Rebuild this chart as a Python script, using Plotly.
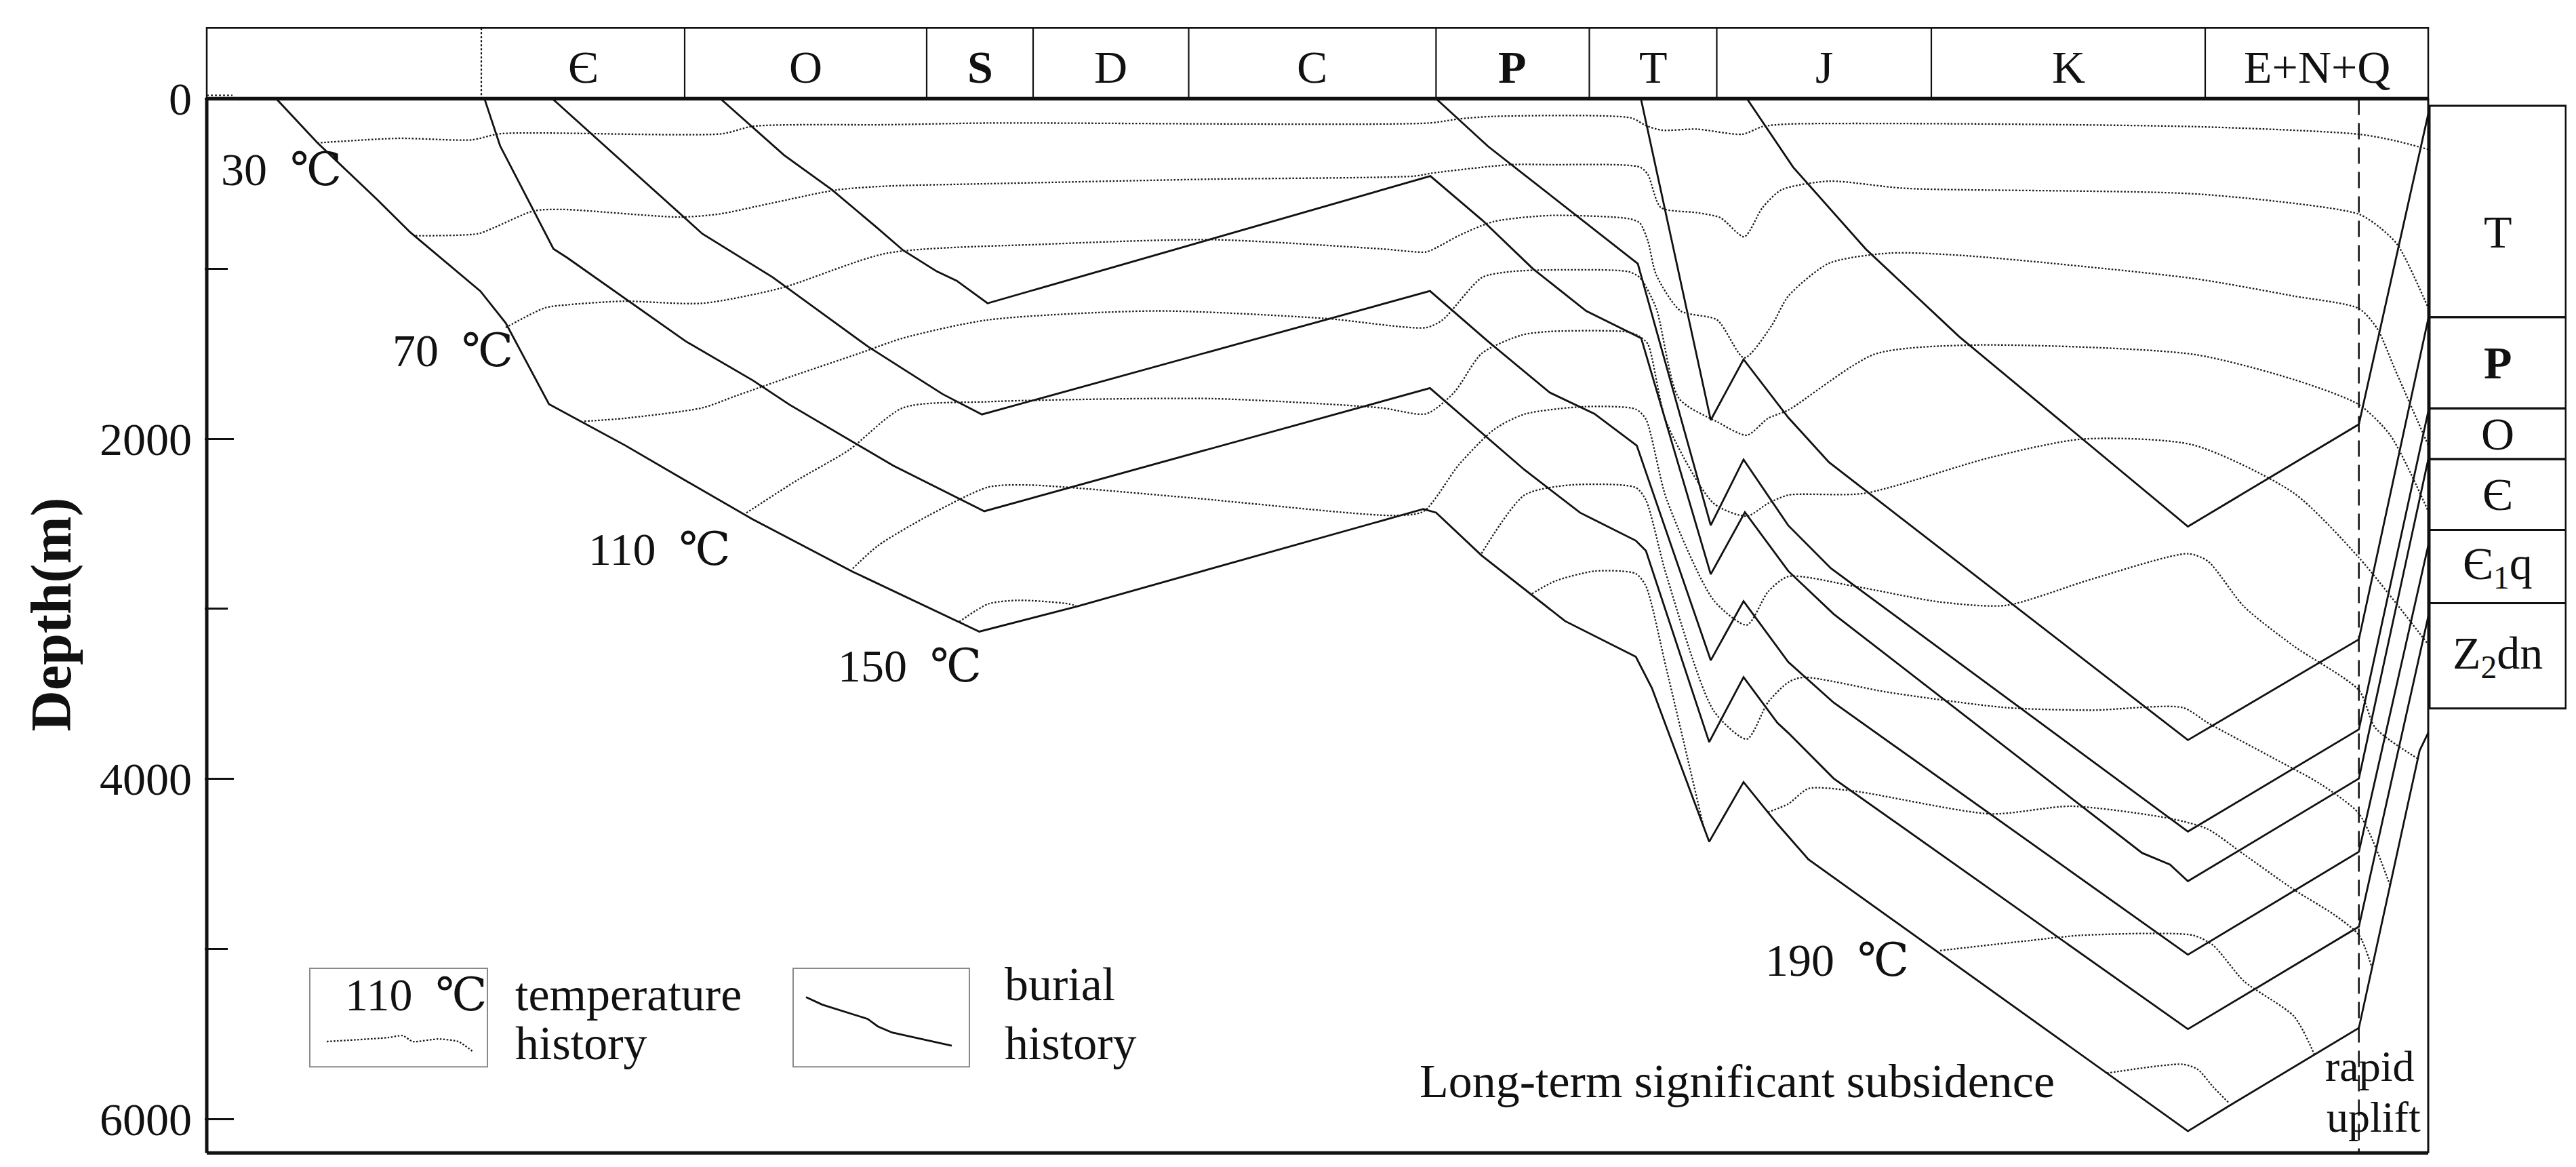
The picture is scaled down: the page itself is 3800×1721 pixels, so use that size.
import plotly.graph_objects as go

# ---------------- data (time-axis position units, depth in m) ----------------
PERIOD_NAMES = ["Є", "O", "<b>S</b>", "D", "C", "<b>P</b>", "T", "J", "K", "E+N+Q"]
PERIOD_EDGES = [702, 1002, 1359, 1516, 1745.5, 2110.4, 2336.5, 2524.5, 2841, 3245, 3574]

STRAT_NAMES = ["T", "<b>P</b>", "O", "Є", "Є<sub>1</sub>q", "Z<sub>2</sub>dn"]
STRAT_BOUNDS = [42, 1285, 1821, 2119, 2536, 2967, 3586]

DEPTH_TICKS = [0, 2000, 4000, 6000]
DEPTH_MINOR = [1000, 3000, 5000]

# burial history lines (horizons)
C1_POS = [2569, 2637, 2744, 2882, 3219.5, 3471.7, 3574]
C1_DEP = [0, 402, 883, 1399, 2516, 1915, 90]

C2_POS = [2412.6, 2515.6, 2564, 2630, 2690, 3219.5, 3471.7, 3574]
C2_DEP = [0, 1890, 1533, 1875, 2138, 3772, 3180, 1295]

C3_POS = [2110.4, 2187, 2408, 2515.6, 2564, 2630, 2693, 3219.5, 3471.7, 3574]
C3_DEP = [0, 280, 970, 2509, 2122, 2510, 2762, 4310, 3709, 1840]

C4_POS = [1054.7, 1148.4, 1219, 1282.9, 1324.4, 1374.1, 1403.1, 1448.8, 2102, 2178.4, 2253,
          2331.8, 2413, 2515.6, 2566, 2630, 2697, 3152, 3193, 3205, 3219.5, 3471.7, 3574]
C4_DEP = [0, 331, 535, 749, 892, 1016, 1070, 1203, 455, 714, 999,
          1248, 1408, 2797, 2432, 2778, 3031, 4436, 4504, 4548, 4602, 3998, 2122]

C5_POS = [806.8, 1028, 1131.8, 1272.5, 1382.4, 1440.5, 2101.4, 2186.7, 2278, 2344, 2406.5,
          2515.6, 2564, 2630, 2697, 3219.5, 3471.7, 3574]
C5_DEP = [0, 794, 1050, 1458, 1737, 1857, 1131, 1426, 1728, 1853, 2040,
          3303, 2955, 3313, 3552, 5034, 4429, 2628]

C6_POS = [706.7, 729.7, 808.4, 829, 1003.3, 1102.8, 1156.8, 1309.8, 1444, 2101.4, 2241, 2323,
          2405.1, 2420, 2513.3, 2564, 2614, 2630, 2697, 3219.5, 3471.7, 3574]
C6_DEP = [0, 277, 883, 936, 1426, 1657, 1800, 2158, 2426, 1702, 2183, 2435,
          2599, 2659, 3784, 3402, 3671, 3730, 3998, 5472, 4869, 3046]

C7_POS = [399.4, 460.2, 547.3, 597, 700.7, 738, 801.8, 914.3, 1003.8, 1100.8, 1250, 1436.6,
          1580.6, 2091.7, 2110.4, 2177.5, 2300.7, 2405.1, 2429, 2513.3, 2564, 2614.1, 2659.8,
          3219.5, 3279.2, 3471.7, 3561.3, 3574]
C7_DEP = [0, 259, 589, 785, 1132, 1319, 1796, 2039, 2247, 2470, 2782, 3134,
          2986, 2413, 2434, 2686, 3072, 3282, 3468, 4370, 4019, 4266, 4474,
          6072, 5926, 5465, 3834, 3729]

# temperature history lines (isotherms)
T30_POS = [460, 580, 688, 730, 1057, 1103, 1300, 1450, 2100, 2144, 2196, 2398, 2420, 2443,
           2495, 2562, 2592, 2630, 3227, 3472, 3525, 3574]
T30_DEP = [260, 233, 242, 206, 206, 162, 153, 143, 143, 119, 104, 113, 158, 185,
           179, 209, 164, 149, 164, 209, 247, 298]

T50_POS = [605, 697, 721, 779, 821, 995, 1053, 1128, 1227, 1300, 1449, 1780, 2079, 2104, 2220,
           2278, 2411, 2423, 2442, 2495, 2530, 2565, 2592, 2620, 2690, 2802, 3239, 3471, 3503,
           3529, 3574]
T50_DEP = [806, 794, 758, 660, 651, 696, 678, 616, 536, 514, 500, 473, 455, 438, 388,
           388, 402, 447, 640, 670, 700, 812, 640, 536, 485, 527, 562, 678, 759,
           860, 1230]

T70_POS = [738, 796, 829, 912, 1028, 1144, 1300, 1532, 1780, 2029, 2096, 2112, 2145, 2195, 2278,
           2394, 2411, 2423, 2435, 2471, 2525, 2565, 2605, 2630, 2690, 2780, 2891, 3227, 3376,
           3472, 3499, 3525, 3574]
T70_DEP = [1346, 1230, 1212, 1191, 1203, 1114, 909, 856, 829, 883, 901, 874, 803, 723, 687,
           705, 731, 838, 1034, 1248, 1301, 1524, 1337, 1161, 968, 908, 923, 1057, 1161,
           1235, 1354, 1592, 2038]

T90_POS = [854, 912, 1028, 1078, 1161, 1260, 1324, 1449, 1698, 1946, 2096, 2120, 2178, 2220,
           2278, 2394, 2411, 2435, 2469, 2525, 2569, 2600, 2630, 2757, 2899, 3227, 3376, 3472,
           3518, 3574]
T90_DEP = [1897, 1880, 1818, 1747, 1631, 1497, 1408, 1301, 1248, 1292, 1346, 1301, 1052, 1017,
           1007, 1017, 1052, 1230, 1764, 1900, 1979, 1880, 1831, 1503, 1449, 1503, 1652, 1800,
           1979, 2426]

T110_POS = [1093, 1169, 1244, 1324, 1449, 1780, 2029, 2096, 2137, 2178, 2237, 2278, 2394, 2411,
            2423, 2450, 2520, 2569, 2600, 2630, 2742, 2928, 3063, 3227, 3376, 3472, 3574]
T110_DEP = [2436, 2241, 2067, 1818, 1782, 1764, 1818, 1853, 1728, 1497, 1390, 1369, 1372, 1399,
            1444, 1900, 2380, 2455, 2380, 2331, 2321, 2110, 2002, 2036, 2320, 2700, 3210]

T130_POS = [1250, 1287, 1362, 1450, 1510, 1748, 2047, 2092, 2144, 2196, 2241, 2330, 2405, 2420,
            2450, 2520, 2569, 2600, 2630, 2727, 2854, 2951, 3078, 3219.5, 3249, 3302, 3376,
            3472, 3496, 3558]
T130_DEP = [2763, 2629, 2451, 2284, 2272, 2347, 2451, 2427, 2153, 1945, 1855, 1811, 1826, 1885,
            2350, 2950, 3095, 2900, 2810, 2867, 2960, 2980, 2825, 2676, 2720, 2986, 3220,
            3480, 3700, 3880]

T150A_POS = [1407, 1450, 1495, 1569, 1581]
T150A_DEP = [3076, 2971, 2950, 2971, 2986]
T150B_POS = [2177.5, 2241, 2308, 2405, 2420, 2450, 2520, 2569, 2600, 2630, 2652, 2779, 2951,
             3078, 3212, 3249, 3346, 3414, 3472, 3518]
T150B_DEP = [2674, 2331, 2272, 2287, 2361, 2800, 3600, 3766, 3550, 3432, 3403, 3492, 3581,
             3596, 3581, 3671, 3879, 4028, 4206, 4630]

T170A_POS = [2252, 2286, 2345, 2405, 2420, 2450, 2505]
T170A_DEP = [2911, 2837, 2778, 2793, 2867, 3350, 4281]
T170B_POS = [2600, 2630, 2660, 2727, 2928, 3048, 3197, 3249, 3302, 3376, 3436, 3472, 3491]
T170B_DEP = [4196, 4147, 4057, 4072, 4206, 4161, 4236, 4296, 4444, 4652, 4801, 4920, 5110]

T190_POS = [2854, 2988, 3063, 3227, 3257, 3302, 3376, 3406]
T190_DEP = [5010, 4950, 4920, 4920, 4980, 5189, 5397, 5620]

T210_POS = [3100, 3212, 3234, 3257, 3279]
T210_DEP = [5731, 5679, 5709, 5813, 5902]

# legend sample curves
LEG_TEMP_POS = [474, 564, 586, 601, 638, 668, 690]
LEG_TEMP_DEP = [5545, 5522, 5510, 5545, 5530, 5545, 5605]
LEG_BUR_POS = [1181, 1205, 1272, 1287, 1308, 1396]
LEG_BUR_DEP = [5284, 5328, 5412, 5456, 5492, 5569]

# ---------------- styling ----------------
FONT = "Liberation Serif, DejaVu Serif, Noto Sans CJK SC, serif"
BLACK = "#111111"
DOT_COLOR = "#1a1a1a"
DOT_DASH = "2.5px,2.5px"
X_LEFT, X_RIGHT = 297, 3574
COL_LEFT, COL_RIGHT = 3576, 3777
HEAD_TOP = -416
Y_BOTTOM = 6200

fig = go.Figure()

burial = [(C1_POS, C1_DEP), (C2_POS, C2_DEP), (C3_POS, C3_DEP), (C4_POS, C4_DEP),
          (C5_POS, C5_DEP), (C6_POS, C6_DEP), (C7_POS, C7_DEP)]
for px_, d_ in burial:
    fig.add_trace(go.Scatter(x=px_, y=d_, mode="lines", hoverinfo="skip", showlegend=False,
                             line=dict(color=BLACK, width=2.8)))

iso = [(T30_POS, T30_DEP), (T50_POS, T50_DEP), (T70_POS, T70_DEP), (T90_POS, T90_DEP),
       (T110_POS, T110_DEP), (T130_POS, T130_DEP), (T150A_POS, T150A_DEP),
       (T150B_POS, T150B_DEP), (T170A_POS, T170A_DEP), (T170B_POS, T170B_DEP),
       (T190_POS, T190_DEP), (T210_POS, T210_DEP)]
for px_, d_ in iso:
    fig.add_trace(go.Scatter(x=px_, y=d_, mode="lines", hoverinfo="skip", showlegend=False,
                             line=dict(color=DOT_COLOR, width=2.3, dash=DOT_DASH,
                                       shape="spline", smoothing=0.7)))

# legend samples
fig.add_trace(go.Scatter(x=LEG_TEMP_POS, y=LEG_TEMP_DEP, mode="lines", hoverinfo="skip",
                         showlegend=False,
                         line=dict(color=DOT_COLOR, width=2.3, dash=DOT_DASH,
                                   shape="spline", smoothing=0.6)))
fig.add_trace(go.Scatter(x=LEG_BUR_POS, y=LEG_BUR_DEP, mode="lines", hoverinfo="skip",
                         showlegend=False, line=dict(color=BLACK, width=2.8)))

shapes = []
# header band
shapes.append(dict(type="rect", xref="x", yref="y", x0=X_LEFT, x1=X_RIGHT, y0=HEAD_TOP, y1=0,
                   line=dict(color=BLACK, width=2.5)))
for i, e in enumerate(PERIOD_EDGES[:-1]):
    shapes.append(dict(type="line", xref="x", yref="y", x0=e, x1=e, y0=HEAD_TOP, y1=0,
                       line=dict(color=BLACK, width=2.2, dash="dot" if i == 0 else "solid")))
# main frame
shapes.append(dict(type="line", xref="x", yref="y", x0=X_LEFT, x1=X_RIGHT, y0=0, y1=0,
                   line=dict(color=BLACK, width=5.5)))
shapes.append(dict(type="line", xref="x", yref="y", x0=X_LEFT, x1=X_LEFT, y0=0, y1=Y_BOTTOM,
                   line=dict(color=BLACK, width=5)))
shapes.append(dict(type="line", xref="x", yref="y", x0=X_LEFT, x1=X_RIGHT, y0=Y_BOTTOM,
                   y1=Y_BOTTOM, line=dict(color=BLACK, width=5)))
shapes.append(dict(type="line", xref="x", yref="y", x0=X_RIGHT, x1=X_RIGHT, y0=0, y1=Y_BOTTOM,
                   line=dict(color=BLACK, width=3)))
# dashed uplift marker
shapes.append(dict(type="line", xref="x", yref="y", x0=3471.7, x1=3471.7, y0=0, y1=Y_BOTTOM,
                   line=dict(color=BLACK, width=2.5, dash="24px,12px")))
# small dotted tick at the top-left of the header
shapes.append(dict(type="line", xref="x", yref="y", x0=X_LEFT, x1=335, y0=-20, y1=-20,
                   line=dict(color=BLACK, width=2, dash="dot")))
# stratigraphic column
for top, bot in zip(STRAT_BOUNDS[:-1], STRAT_BOUNDS[1:]):
    shapes.append(dict(type="rect", xref="x", yref="y", x0=COL_LEFT, x1=COL_RIGHT, y0=top, y1=bot,
                       line=dict(color=BLACK, width=3)))
# legend boxes
for x0, x1 in [(449, 711), (1162, 1422)]:
    shapes.append(dict(type="rect", xref="x", yref="y", x0=x0, x1=x1, y0=5114, y1=5694,
                       line=dict(color="#8a8a8a", width=2)))

ann = []
def txt(x, y, s, size=68, xanchor="center", color=BLACK):
    ann.append(dict(x=x, y=y, xref="x", yref="y", text=s, showarrow=False, xanchor=xanchor,
                    yanchor="middle", font=dict(family=FONT, size=size, color=color)))

for name, a, b in zip(PERIOD_NAMES, PERIOD_EDGES[:-1], PERIOD_EDGES[1:]):
    txt((a + b) / 2, -185, name, size=68)
for name, top, bot in zip(STRAT_NAMES, STRAT_BOUNDS[:-1], STRAT_BOUNDS[1:]):
    txt((COL_LEFT + COL_RIGHT) / 2, (top + bot) / 2 + (120 if name == "T" else 0), name, size=68)

DEG = "\u2002\u2103"
txt(407, 417, "30" + DEG)
txt(660, 1480, "70" + DEG)
txt(965, 2648, "110" + DEG)
txt(1334, 3334, "150" + DEG)
txt(2702, 5065, "190" + DEG)
txt(606, 5268, "110" + DEG)
txt(750, 5267, "temperature", xanchor="left", size=70)
txt(750, 5555, "history", xanchor="left", size=70)
txt(1472, 5207, "burial", xanchor="left", size=70)
txt(1472, 5555, "history", xanchor="left", size=70)
txt(2084, 5779, "Long-term significant subsidence", xanchor="left", size=70)
txt(3488, 5690, "rapid", size=64)
txt(3493, 5990, "uplift", size=64)

ann.append(dict(x=-0.0649, y=3032, xref="paper", yref="y", text="<b>Depth(m)</b>",
                showarrow=False, textangle=-90, xanchor="center", yanchor="middle",
                font=dict(family=FONT, size=84, color=BLACK)))

fig.update_layout(
    width=3800, height=1721,
    margin=dict(l=294, r=22, t=31, b=25, pad=0),
    paper_bgcolor="white", plot_bgcolor="white",
    shapes=shapes, annotations=ann, showlegend=False,
    xaxis=dict(range=[294, 3778], visible=False, showgrid=False, zeroline=False, fixedrange=True),
    yaxis=dict(range=[6215, -425], showgrid=False, zeroline=False, showline=False,
               tickmode="array", tickvals=DEPTH_TICKS, ticktext=[str(v) for v in DEPTH_TICKS],
               ticks="inside", ticklen=43, tickwidth=3, tickcolor=BLACK,
               ticklabelstandoff=18,
               tickfont=dict(family=FONT, size=68, color=BLACK),
               minor=dict(tickmode="array", tickvals=DEPTH_MINOR, ticks="inside", ticklen=34,
                          tickwidth=3, tickcolor=BLACK)),
)

fig.write_html("out.html")
